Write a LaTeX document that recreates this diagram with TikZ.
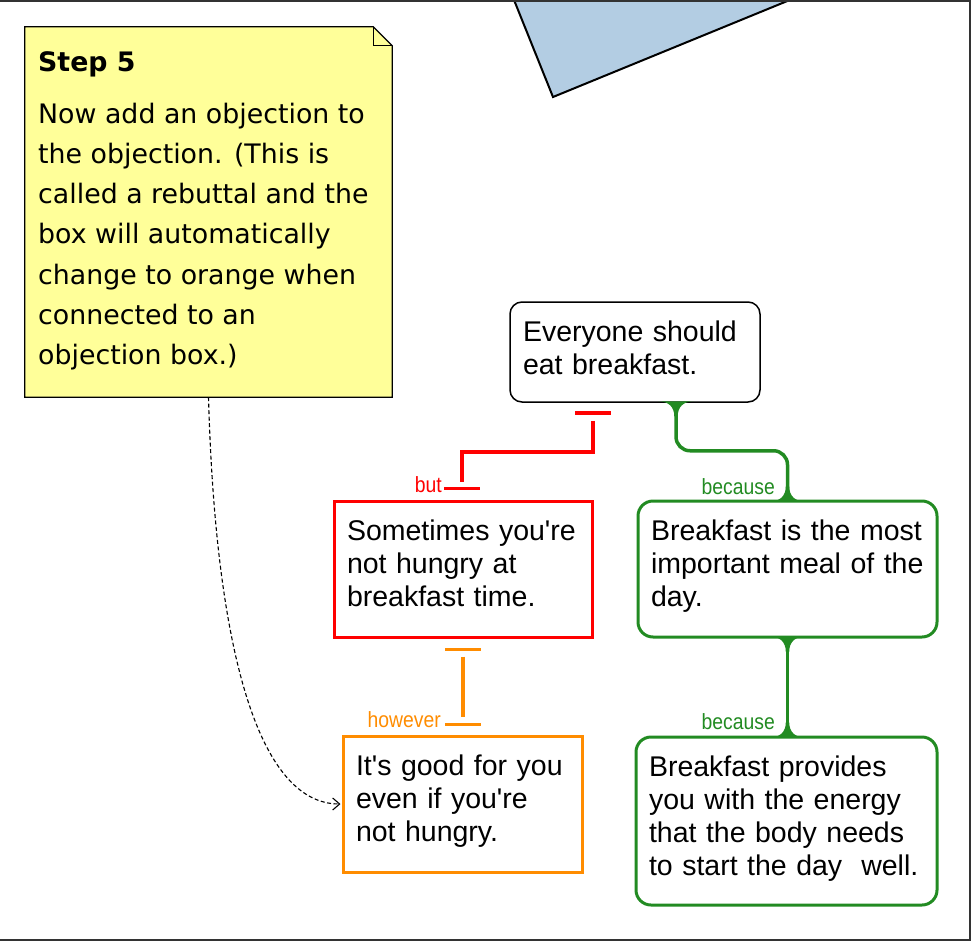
\documentclass[tikz,border=0pt]{standalone}
\usepackage{fontspec}
\setmainfont{Liberation Sans}
\newfontfamily\notefont{DejaVu Sans}
\newfontfamily\labelfont[FakeStretch=0.88]{Liberation Sans}
\usetikzlibrary{arrows.meta,calc}
\definecolor{notey}{HTML}{FFFF99}
\definecolor{argred}{HTML}{FF0000}
\definecolor{arggreen}{HTML}{228B22}
\definecolor{argorange}{HTML}{FF8C00}
\definecolor{triblue}{HTML}{B3CDE3}
\definecolor{framegray}{HTML}{333333}
\begin{document}
\begin{tikzpicture}[x=1pt,y=-1pt,
  box/.style={inner xsep=13pt, inner ysep=0pt, align=left, text height=39.5pt,
    font=\fontsize{28.5}{33}\selectfont},
  claimbox/.style={box, draw=black, line width=1.5pt, rounded corners=12pt},
  objbox/.style={box, draw=argred, line width=3pt},
  rebbox/.style={box, draw=argorange, line width=3pt},
  reasonbox/.style={box, draw=arggreen, line width=3pt, rounded corners=15pt},
  lab/.style={inner sep=0pt, font=\labelfont\fontsize{22}{24}\selectfont},
  redline/.style={draw=argred, line width=3.5pt},
  orangeline/.style={draw=argorange, line width=3.5pt},
  greenline/.style={draw=arggreen, line width=3.5pt},
  notetext/.style={inner sep=0pt, align=left, font=\notefont\fontsize{26.8}{40.3}\selectfont},
  hint/.style={draw=black, line width=1.1pt, dash pattern=on 4pt off 2.5pt,
    -{Straight Barb[length=7pt,width=12pt]}},
  flare/.pic={\fill[arggreen] (-18,0) .. controls (-7,0) and (-1.75,6) .. (-1.75,15)
      -- (1.75,15) .. controls (1.75,6) and (7,0) .. (18,0) -- cycle;}
]
\useasboundingbox (0,0) rectangle (973,941);

% triangle at the top
\draw[fill=triblue, line width=2pt, line join=miter] (512,-5) -- (553,97) -- (802,-5) -- cycle;

% sticky note
\node[minimum width=367pt, minimum height=370pt, inner sep=0pt] (note) at (208.5,212) {};
\draw[fill=notey, draw=black, line width=1.2pt]
  (note.north west) -- ($(note.north east)+(-19,0)$) -- ($(note.north east)+(0,19)$)
  -- (note.south east) -- (note.south west) -- cycle;
\draw[draw=black, line width=1pt]
  ($(note.north east)+(-19,0)$) -- ($(note.north east)+(-19,19)$) -- ($(note.north east)+(0,19)$);
\node[notetext, font=\notefont\bfseries\fontsize{26.8}{40.3}\selectfont, anchor=base west]
  (steptitle) at (38,72) {Step 5};
\node[notetext, anchor=north west] (notebody) at (38,102.5)
  {Now add an objection to\\the objection. (This is\\called a rebuttal and the\\box will automatically\\change to orange when\\connected to an\\objection box.)};

% argument boxes
\node[claimbox, text width=224pt, text depth=60.5pt] (claim) at (635,352)
  {Everyone should\\eat breakfast.};
\node[objbox, text width=232pt, text depth=96.5pt] (obj) at (463,569)
  {Sometimes you\textquotesingle re\\not hungry at\\breakfast time.};
\node[reasonbox, text width=273pt, text depth=96.5pt] (reason) at (787.5,569)
  {Breakfast is the most\\important meal of the\\day.};
\node[rebbox, text width=213pt, text depth=96.5pt] (reb) at (462.5,804)
  {It\textquotesingle s good for you\\even if you\textquotesingle re\\not hungry.};
\node[reasonbox, text width=275pt, text depth=128.5pt] (reason2) at (786.5,821)
  {Breakfast provides\\you with the energy\\that the body needs\\to start the day\ \ well.};

% objection connector (red)
\coordinate (rA) at ($(claim.south)+(-42,10)$);
\coordinate (rB) at ($(obj.north)+(-1,-11)$);
\draw[redline] ($(rA)+(-18,0)$) -- ($(rA)+(18,0)$);
\draw[redline] ($(rA)+(0,8)$) -- ($(rA)+(0,39)$) -| ($(rB)+(0,-7)$);
\draw[redline] ($(rB)+(-18,0)$) -- ($(rB)+(18,0)$);
\node[lab, text=argred, anchor=base east] (butlab) at (442,492) {but};

% rebuttal connector (orange)
\coordinate (oA) at ($(obj.south)+(0,11)$);
\coordinate (oB) at ($(reb.north)+(0.5,-10)$);
\draw[orangeline] ($(oA)+(-18,0)$) -- ($(oA)+(18,0)$);
\draw[orangeline] ($(oA)+(0,7)$) -- ($(oB)+(0,-8)$);
\draw[orangeline] ($(oB)+(-18,0)$) -- ($(oB)+(18,0)$);
\node[lab, text=argorange, anchor=base east] (howlab) at (441,727) {however};

% reason connectors (green)
\draw[greenline, rounded corners=14pt] ($(claim.south)+(41,0)$) -- ($(claim.south)+(41,48)$) -| (reason.north);
\pic at ($(claim.south)+(41,-1.5)$) {flare};
\pic[yscale=-1] at ($(reason.north)+(0,2)$) {flare};
\node[lab, text=arggreen, anchor=base east] (becA) at (775,494) {because};

\draw[greenline] (reason.south) -- (reason.south |- reason2.north);
\pic at ($(reason.south)+(0,-2)$) {flare};
\pic[yscale=-1] at ($(reason.south |- reason2.north)+(0,2)$) {flare};
\node[lab, text=arggreen, anchor=base east] (becB) at (775,729) {because};

% dashed hint arrow
\draw[hint] (note.south) .. controls +(7,253) and +(-82,0) .. ($(reb.west)+(-1,0)$);

% frame
\draw[framegray, line width=2pt] (-5,1) -- (970,1) -- (970,939.5) -- (-5,939.5);
\end{tikzpicture}
\end{document}
